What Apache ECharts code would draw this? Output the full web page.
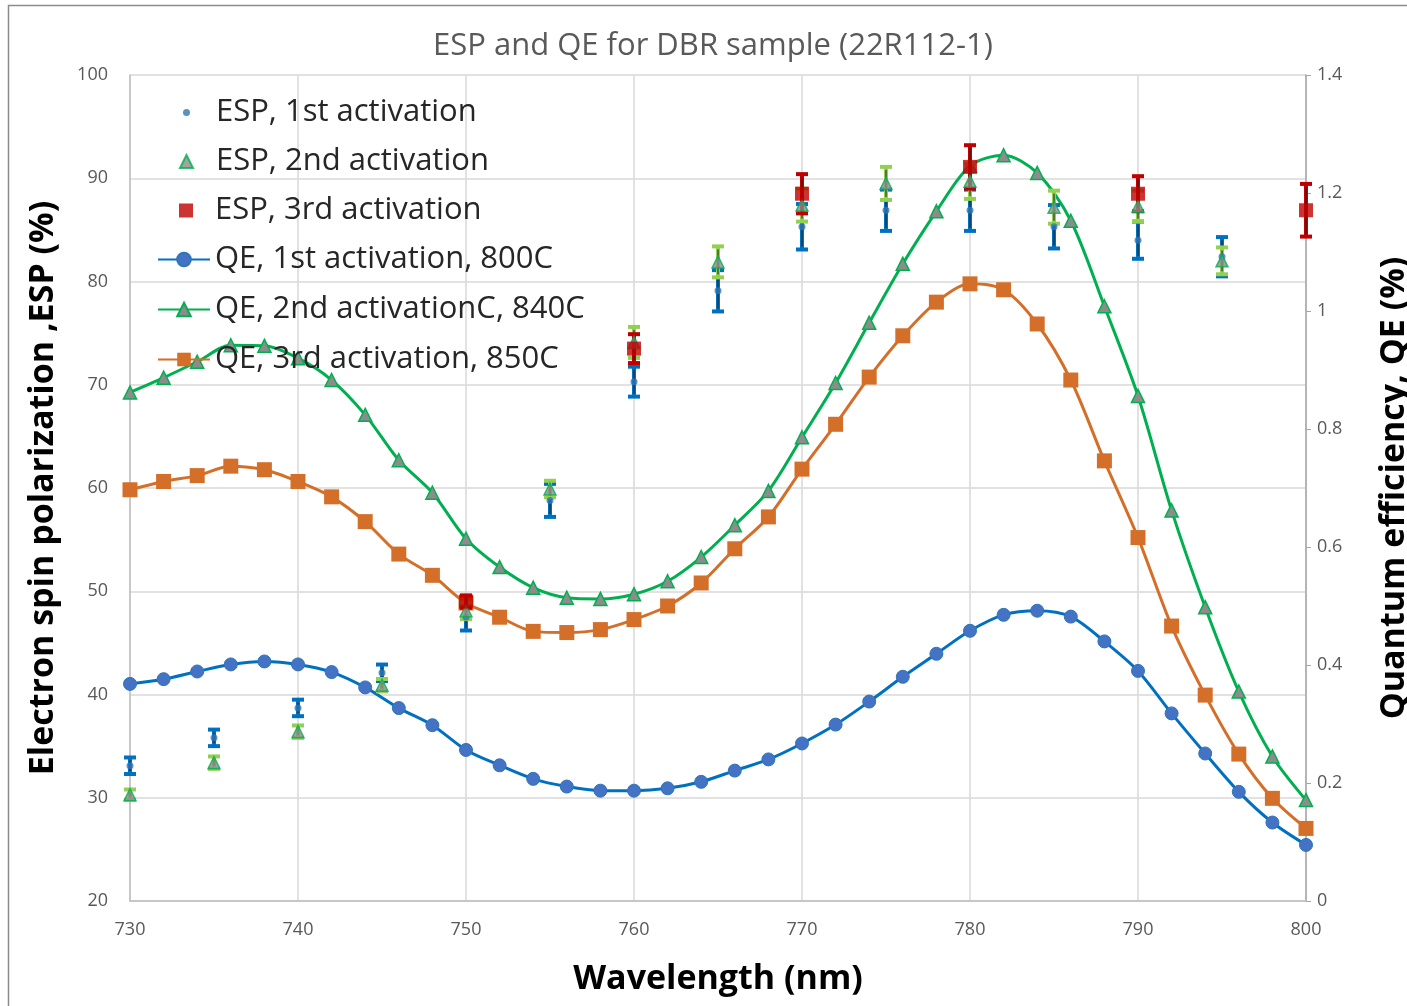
<!DOCTYPE html>
<html lang="en">
<head>
    <meta charset="UTF-8">
    <title>ESP and QE for DBR sample</title>
    <script src="https://cdn.jsdelivr.net/npm/echarts@6/dist/echarts.min.js"></script>
    <style>
        body { margin: 0; background: #fff; }
        #chart { width: 1407px; height: 1006px; }
    </style>
</head>
<body>
<div id="chart"></div>
<script>
    // QE curves, measured every 2 nm
    var qeWl = [730, 732, 734, 736, 738, 740, 742, 744, 746, 748, 750, 752, 754, 756, 758, 760, 762, 764,
        766, 768, 770, 772, 774, 776, 778, 780, 782, 784, 786, 788, 790, 792, 794, 796, 798, 800];
    var qe1 = [0.368, 0.376, 0.389, 0.401, 0.406, 0.401, 0.388, 0.362, 0.327, 0.298, 0.256, 0.230, 0.207, 0.194, 0.187, 0.187, 0.191, 0.202,
        0.221, 0.240, 0.267, 0.299, 0.338, 0.380, 0.419, 0.458, 0.485, 0.492, 0.482, 0.440, 0.390, 0.318, 0.250, 0.185, 0.133, 0.095];
    var qe2 = [0.862, 0.887, 0.914, 0.942, 0.941, 0.920, 0.883, 0.824, 0.747, 0.692, 0.614, 0.566, 0.531, 0.514, 0.512, 0.520, 0.542, 0.583,
        0.637, 0.695, 0.786, 0.878, 0.980, 1.080, 1.169, 1.246, 1.264, 1.234, 1.153, 1.008, 0.856, 0.662, 0.498, 0.355, 0.245, 0.171];
    var qe3 = [0.697, 0.711, 0.721, 0.737, 0.731, 0.711, 0.685, 0.643, 0.588, 0.552, 0.505, 0.481, 0.457, 0.455, 0.460, 0.477, 0.500, 0.539,
        0.597, 0.651, 0.732, 0.808, 0.888, 0.958, 1.015, 1.046, 1.036, 0.978, 0.883, 0.746, 0.616, 0.466, 0.349, 0.249, 0.174, 0.123];

    // ESP points with error bars
    var esp1Wl  = [730, 735, 740, 745, 750, 755, 760, 765, 770, 775, 780, 785, 790, 795];
    var esp1    = [33.1, 35.8, 38.7, 42.1, 47.5, 58.8, 70.3, 79.1, 85.3, 86.9, 86.9, 85.3, 84.0, 82.4];
    var esp1Err = [0.8, 0.8, 0.8, 0.8, 1.3, 1.6, 1.45, 2.0, 2.2, 2.0, 2.0, 2.1, 1.8, 1.9];

    var esp2Wl  = [730, 735, 740, 745, 750, 755, 760, 765, 770, 775, 780, 785, 790, 795];
    var esp2    = [30.3, 33.4, 36.4, 40.9, 48.1, 59.9, 74.1, 81.9, 87.4, 89.5, 89.7, 87.2, 87.3, 82.0];
    var esp2Err = [0.5, 0.6, 0.6, 0.6, 0.8, 0.8, 1.5, 1.5, 1.6, 1.6, 1.7, 1.6, 1.5, 1.3];

    var esp3Wl  = [750, 760, 770, 780, 790, 800];
    var esp3    = [49.0, 73.5, 88.5, 91.1, 88.5, 86.9];
    var esp3Err = [0.6, 1.4, 1.9, 2.1, 1.7, 2.55];

    var names = ['ESP, 1st activation', 'ESP, 2nd activation', 'ESP, 3rd activation',
        'QE, 1st activation, 800C', 'QE, 2nd activationC, 840C', 'QE, 3rd activation, 850C'];

    function pairs(xs, ys) {
        return xs.map(function (x, i) { return [x, ys[i]]; });
    }
    function triples(xs, ys, es) {
        return xs.map(function (x, i) { return [x, ys[i], es[i]]; });
    }

    // error bar drawn through the axis scales
    function errorBar(color) {
        return function (params, api) {
            var x = api.value(0), v = api.value(1), e = api.value(2);
            var hi = api.coord([x, v + e]);
            var lo = api.coord([x, v - e]);
            var cw = 6;
            return {
                type: 'group',
                children: [
                    {type: 'line', shape: {x1: hi[0], y1: hi[1], x2: lo[0], y2: lo[1]}, style: {stroke: color, lineWidth: 4}},
                    {type: 'line', shape: {x1: hi[0] - cw, y1: hi[1], x2: hi[0] + cw, y2: hi[1]}, style: {stroke: color, lineWidth: 4}},
                    {type: 'line', shape: {x1: lo[0] - cw, y1: lo[1], x2: lo[0] + cw, y2: lo[1]}, style: {stroke: color, lineWidth: 4}},
                    {type: 'line', shape: {x1: hi[0], y1: hi[1] + 3, x2: lo[0], y2: lo[1] - 3}, style: {stroke: '#1a1a1a', lineWidth: 1}}
                ]
            };
        };
    }

    var font = 'Open Sans';
    function legendText(padLeft) {
        return {fontFamily: font, fontSize: 31, color: '#262626', lineHeight: 30, padding: [0, 0, 0, padLeft]};
    }
    var titleFont = {fontFamily: font, fontSize: 34, fontWeight: 'bold', color: '#000'};

    var myChart = echarts.init(document.getElementById('chart'));

    var option = {
        backgroundColor: '#fff',
        animation: false,
        textStyle: {fontFamily: font},
        graphic: [{
            type: 'rect',
            shape: {x: 8.5, y: 5.5, width: 1500, height: 1100},
            style: {fill: 'none', stroke: '#8c8c8c', lineWidth: 1.5},
            silent: true
        }],
        title: {
            text: 'ESP and QE for DBR sample (22R112-1)',
            left: 433,
            top: 31,
            padding: 0,
            textStyle: {fontFamily: font, fontSize: 31, fontWeight: 'normal', color: '#595959'}
        },
        legend: [{
            data: [{name: names[0], icon: 'circle'}], left: 178, top: 92, orient: 'vertical',
            itemWidth: 7, itemHeight: 7, textStyle: legendText(21)
        }, {
            data: [{name: names[1], icon: 'triangle'}], left: 174, top: 141, orient: 'vertical',
            itemWidth: 13, itemHeight: 13, textStyle: legendText(18)
        }, {
            data: [{name: names[2], icon: 'rect'}], left: 174, top: 190, orient: 'vertical',
            itemWidth: 14, itemHeight: 14, textStyle: legendText(17)
        }, {
            data: [names[3], names[4], names[5]], left: 152, top: 239, orient: 'vertical',
            itemWidth: 52, itemHeight: 17, itemGap: 19, textStyle: legendText(0)
        }],
        grid: {left: 130, right: 101, top: 75, bottom: 105, outerBoundsMode: 'none', containLabel: false},
        xAxis: {
            type: 'value',
            min: 730, max: 800, interval: 10,
            name: 'Wavelength (nm)',
            nameLocation: 'middle',
            nameGap: 61,
            nameTextStyle: titleFont,
            axisLine: {show: true, lineStyle: {color: '#bfbfbf', width: 1.5}},
            axisTick: {show: false},
            axisLabel: {color: '#595959', fontSize: 18, margin: 20},
            splitLine: {show: true, lineStyle: {color: '#d9d9d9', width: 1.5}}
        },
        yAxis: [{
            type: 'value',
            min: 20, max: 100, interval: 10,
            name: 'Electron spin polarization ,ESP (%)',
            nameLocation: 'middle',
            nameRotate: 90,
            nameGap: 70,
            nameTextStyle: titleFont,
            axisLine: {show: true, lineStyle: {color: '#bfbfbf', width: 1.5}},
            axisTick: {show: false},
            axisLabel: {color: '#595959', fontSize: 18, margin: 22},
            splitLine: {show: true, lineStyle: {color: '#d9d9d9', width: 1.5}}
        }, {
            type: 'value',
            min: 0, max: 1.4, interval: 0.2,
            position: 'right',
            name: 'Quantum efficiency, QE (%)',
            nameLocation: 'middle',
            nameRotate: 90,
            nameGap: 71,
            nameTextStyle: titleFont,
            axisLine: {show: true, lineStyle: {color: '#a6a6a6', width: 1.5}},
            axisTick: {show: true, length: 5, lineStyle: {color: '#a6a6a6'}},
            axisLabel: {color: '#595959', fontSize: 18, margin: 11},
            splitLine: {show: false}
        }],
        series: [{
            name: 'err1', type: 'custom', yAxisIndex: 0, z: 3,
            renderItem: errorBar('#0070c0'),
            encode: {x: 0, y: 1},
            data: triples(esp1Wl, esp1, esp1Err)
        }, {
            name: 'err2', type: 'custom', yAxisIndex: 0, z: 3,
            renderItem: errorBar('#92d050'),
            encode: {x: 0, y: 1},
            data: triples(esp2Wl, esp2, esp2Err)
        }, {
            name: 'err3', type: 'custom', yAxisIndex: 0, z: 3,
            renderItem: errorBar('#c00000'),
            encode: {x: 0, y: 1},
            data: triples(esp3Wl, esp3, esp3Err)
        }, {
            name: names[0], type: 'scatter', yAxisIndex: 0, z: 4,
            symbol: 'circle', symbolSize: 7,
            itemStyle: {color: '#2e75b6'},
            data: pairs(esp1Wl, esp1)
        }, {
            name: names[1], type: 'scatter', yAxisIndex: 0, z: 5,
            symbol: 'triangle', symbolSize: 12,
            itemStyle: {color: '#8c8c8c', borderColor: '#00b050', borderWidth: 1.5},
            data: pairs(esp2Wl, esp2)
        }, {
            name: names[2], type: 'scatter', yAxisIndex: 0, z: 6,
            symbol: 'rect', symbolSize: 14,
            itemStyle: {color: '#c00000'},
            data: pairs(esp3Wl, esp3)
        }, {
            name: names[3], type: 'line', yAxisIndex: 1, z: 2,
            smooth: 0.3,
            symbol: 'circle', symbolSize: 13,
            lineStyle: {color: '#0070c0', width: 3},
            itemStyle: {color: '#4472c4', borderColor: '#2e75b6', borderWidth: 1},
            data: pairs(qeWl, qe1)
        }, {
            name: names[4], type: 'line', yAxisIndex: 1, z: 2,
            smooth: 0.3,
            symbol: 'triangle', symbolSize: 13,
            lineStyle: {color: '#00b050', width: 3},
            itemStyle: {color: '#8c8c8c', borderColor: '#00b050', borderWidth: 1.5},
            data: pairs(qeWl, qe2)
        }, {
            name: names[5], type: 'line', yAxisIndex: 1, z: 2,
            smooth: 0.3,
            symbol: 'rect', symbolSize: 15,
            lineStyle: {color: '#d46f2a', width: 3},
            itemStyle: {color: '#d46f2a'},
            data: pairs(qeWl, qe3)
        }]
    };

    myChart.setOption(option);
</script>
</body>
</html>
